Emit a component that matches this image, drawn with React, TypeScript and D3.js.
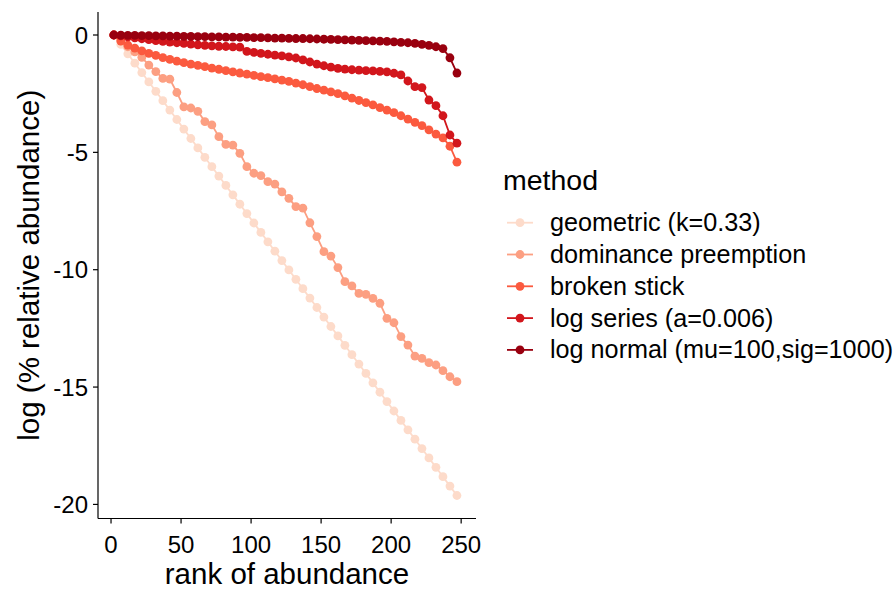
import React from 'react';
import * as d3 from 'd3';

// rank of each plotted point (every 5th species)
const ranks = [
  2, 7, 12, 17, 22, 27, 32, 37, 42, 47, 52, 57, 62, 67, 72, 77, 82, 87, 92, 97,
  102, 107, 112, 117, 122, 127, 132, 137, 142, 147, 152, 157, 162, 167, 172, 177, 182, 187, 192, 197,
  202, 207, 212, 217, 222, 227, 232, 237, 242, 247,
];

const geometric = [
  0, -0.4, -0.8, -1.2, -1.6, -2.0, -2.4, -2.8, -3.2, -3.6,
  -4.01, -4.41, -4.81, -5.21, -5.61, -6.01, -6.41, -6.81, -7.21, -7.61,
  -8.01, -8.41, -8.81, -9.21, -9.61, -10.01, -10.41, -10.81, -11.21, -11.61,
  -12.02, -12.42, -12.82, -13.22, -13.62, -14.02, -14.42, -14.82, -15.22, -15.62,
  -16.02, -16.42, -16.82, -17.22, -17.62, -18.02, -18.42, -18.82, -19.22, -19.62,
];
const dominance = [
  0, -0.25, -0.5, -0.72, -0.95, -1.28, -1.56, -1.85, -1.88, -2.45,
  -3.06, -3.11, -3.25, -3.69, -3.83, -4.33, -4.66, -4.69, -5.04, -5.61,
  -5.89, -5.99, -6.25, -6.35, -6.68, -6.96, -7.31, -7.38, -8.0, -8.59,
  -9.23, -9.42, -9.91, -10.51, -10.69, -11.01, -11.05, -11.22, -11.43, -12.07,
  -12.26, -12.85, -13.21, -13.68, -13.78, -13.96, -14.06, -14.3, -14.56, -14.77,
];
const brokenStick = [
  0, -0.26, -0.43, -0.56, -0.68, -0.78, -0.87, -0.96, -1.04, -1.11,
  -1.18, -1.24, -1.29, -1.35, -1.41, -1.46, -1.52, -1.57, -1.62, -1.67,
  -1.72, -1.77, -1.82, -1.87, -1.92, -1.98, -2.05, -2.12, -2.2, -2.28,
  -2.35, -2.42, -2.5, -2.59, -2.69, -2.79, -2.88, -2.98, -3.09, -3.2,
  -3.31, -3.44, -3.58, -3.72, -3.86, -4.04, -4.22, -4.38, -4.74, -5.42,
];
const logSeries = [
  0, -0.04, -0.08, -0.12, -0.16, -0.2, -0.24, -0.27, -0.3, -0.33,
  -0.36, -0.39, -0.42, -0.44, -0.46, -0.48, -0.49, -0.51, -0.52, -0.7,
  -0.74, -0.78, -0.82, -0.86, -0.89, -0.93, -0.98, -1.06, -1.15, -1.24,
  -1.31, -1.37, -1.42, -1.45, -1.48, -1.5, -1.52, -1.53, -1.55, -1.57,
  -1.63, -1.7, -1.96, -2.2, -2.24, -2.77, -3.01, -3.44, -4.26, -4.61,
];
const logNormal = [
  0, -0.01, -0.02, -0.02, -0.03, -0.03, -0.04, -0.04, -0.05, -0.05,
  -0.06, -0.06, -0.07, -0.07, -0.08, -0.08, -0.09, -0.09, -0.1, -0.1,
  -0.11, -0.11, -0.12, -0.13, -0.13, -0.14, -0.15, -0.15, -0.16, -0.17,
  -0.18, -0.19, -0.2, -0.21, -0.22, -0.23, -0.24, -0.25, -0.26, -0.27,
  -0.29, -0.31, -0.33, -0.36, -0.4, -0.44, -0.5, -0.58, -0.97, -1.62,
];

const methods = [
  'geometric (k=0.33)',
  'dominance preemption',
  'broken stick',
  'log series (a=0.006)',
  'log normal (mu=100,sig=1000)',
];
const seriesValues = [geometric, dominance, brokenStick, logSeries, logNormal];
const colors = ['#fddbca', '#fc9f82', '#fb5a3f', '#d2161c', '#99000f'];

const xTicks = [0, 50, 100, 150, 200, 250];
const yTicks = [0, -5, -10, -15, -20];

const FONT = '"Liberation Sans", Arial, Helvetica, sans-serif';

export default function App() {
  const width = 896;
  const height = 590;
  const left = 98;
  const right = 476;
  const top = 12;
  const bottom = 518.5;

  const x = d3.scaleLinear().domain([-9.3, 260.6]).range([left, right]);
  const y = d3.scaleLinear().domain([-20.6, 0.98]).range([bottom, top]);

  const line = d3
    .line<number>()
    .x((d, i) => x(ranks[i]))
    .y((d) => y(d));

  return (
    <svg
      width={width}
      height={height}
      style={{ position: 'absolute', left: 0, top: 0, background: '#fff' }}
      fontFamily={FONT}
    >
      {seriesValues.map((vals, s) => (
        <g key={methods[s]}>
          <path d={line(vals) || ''} fill="none" stroke={colors[s]} strokeWidth={1.8} />
          {vals.map((v, i) => (
            <circle key={i} cx={x(ranks[i])} cy={y(v)} r={4.4} fill={colors[s]} />
          ))}
        </g>
      ))}

      {/* axes */}
      <line x1={left} x2={left} y1={top} y2={bottom} stroke="#000" strokeWidth={1.2} />
      <line x1={left} x2={right} y1={bottom} y2={bottom} stroke="#000" strokeWidth={1.2} />
      {yTicks.map((t) => (
        <g key={t}>
          <line x1={left - 5} x2={left} y1={y(t)} y2={y(t)} stroke="#000" strokeWidth={1.2} />
          <text x={left - 10} y={y(t) + 8.5} textAnchor="end" fontSize={24} fill="#000">
            {t}
          </text>
        </g>
      ))}
      {xTicks.map((t) => (
        <g key={t}>
          <line x1={x(t)} x2={x(t)} y1={bottom} y2={bottom + 5} stroke="#000" strokeWidth={1.2} />
          <text x={x(t)} y={bottom + 34} textAnchor="middle" fontSize={24} fill="#000">
            {t}
          </text>
        </g>
      ))}
      <text x={(left + right) / 2} y={584} textAnchor="middle" fontSize={29.5} fill="#000">
        rank of abundance
      </text>
      <text
        transform={`translate(39,${(top + bottom) / 2}) rotate(-90)`}
        textAnchor="middle"
        fontSize={29.5}
        fill="#000"
      >
        log (% relative abundance)
      </text>

      {/* legend */}
      <text x={503} y={190} fontSize={28.5} fill="#000">
        method
      </text>
      {methods.map((m, i) => {
        const cy = 222.7 + i * 31.8;
        return (
          <g key={m}>
            <line x1={507} x2={533} y1={cy} y2={cy} stroke={colors[i]} strokeWidth={1.8} />
            <circle cx={520} cy={cy} r={4.4} fill={colors[i]} />
            <text x={550} y={cy + 8.5} fontSize={25.2} fill="#000">
              {m}
            </text>
          </g>
        );
      })}
    </svg>
  );
}
